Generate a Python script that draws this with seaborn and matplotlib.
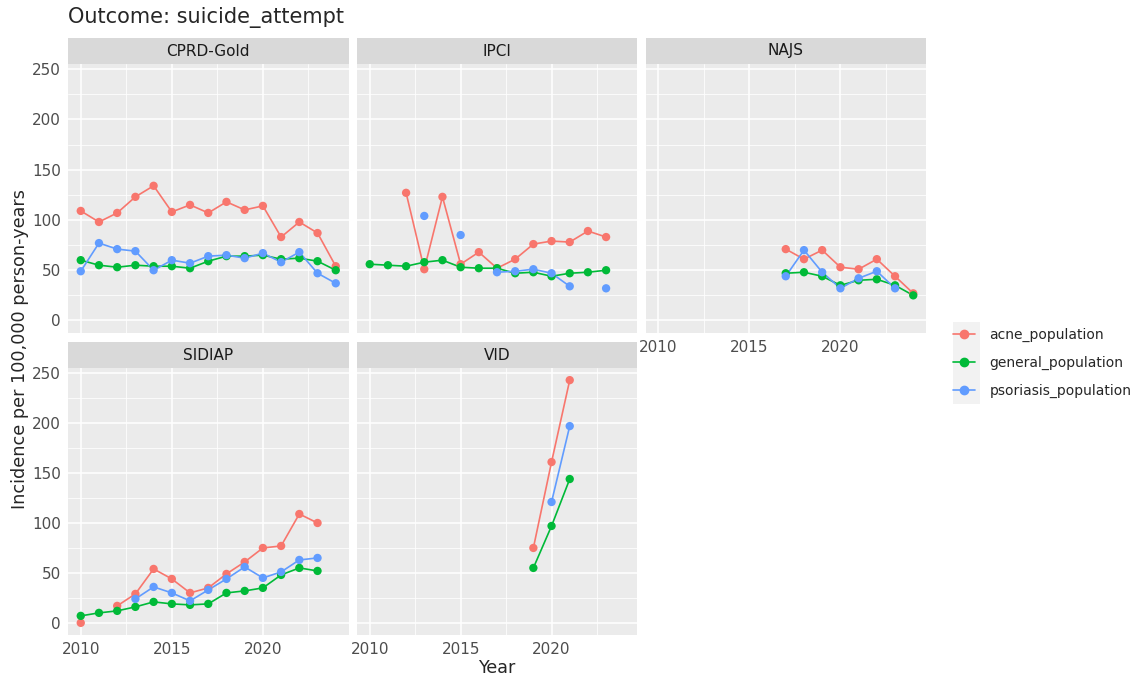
import numpy as np
import pandas as pd
import matplotlib
matplotlib.use("Agg")
import matplotlib.pyplot as plt
import seaborn as sns
from matplotlib.lines import Line2D
from matplotlib.patches import Rectangle

sns.set_style("white")
plt.rcParams["font.family"] = ["DejaVu Sans"]

nan = np.nan
populations = ["acne_population", "general_population", "psoriasis_population"]
colors = ["#F8766D", "#00BA38", "#619CFF"]
databases = ["CPRD-Gold", "IPCI", "NAJS", "SIDIAP", "VID"]

cprd_years = list(range(2010, 2025))
cprd_acne = [109, 98, 107, 123, 134, 108, 115, 107, 118, 110, 114, 83, 98, 87, 54]
cprd_general = [60, 55, 53, 55, 54, 54, 52, 59, 64, 64, 65, 61, 62, 59, 50]
cprd_psoriasis = [49, 77, 71, 69, 50, 60, 57, 64, 65, 62, 67, 58, 68, 47, 37]

ipci_years = list(range(2010, 2024))
ipci_acne = [nan, nan, 127, 51, 123, 56, 68, 52, 61, 76, 79, 78, 89, 83]
ipci_general = [56, 55, 54, 58, 60, 53, 52, 52, 47, 48, 44, 47, 48, 50]
ipci_psoriasis = [nan, nan, nan, 104, nan, 85, nan, 48, 49, 51, 47, 34, nan, 32]

najs_years = list(range(2017, 2025))
najs_acne = [71, 61, 70, 53, 51, 61, 44, 27]
najs_general = [47, 48, 44, 35, 40, 41, 35, 25]
najs_psoriasis = [44, 70, 48, 32, 42, 49, 32, nan]

sidiap_years = list(range(2010, 2024))
sidiap_acne = [0, nan, 17, 29, 54, 44, 30, 35, 49, 61, 75, 77, 109, 100]
sidiap_general = [7, 10, 12, 16, 21, 19, 18, 19, 30, 32, 35, 48, 55, 52]
sidiap_psoriasis = [nan, nan, nan, 24, 36, 30, 22, 33, 44, 56, 45, 51, 63, 65]

vid_years = [2019, 2020, 2021]
vid_acne = [75, 161, 243]
vid_general = [55, 97, 144]
vid_psoriasis = [nan, 121, 197]

source = {
    "CPRD-Gold": (cprd_years, [cprd_acne, cprd_general, cprd_psoriasis]),
    "IPCI": (ipci_years, [ipci_acne, ipci_general, ipci_psoriasis]),
    "NAJS": (najs_years, [najs_acne, najs_general, najs_psoriasis]),
    "SIDIAP": (sidiap_years, [sidiap_acne, sidiap_general, sidiap_psoriasis]),
    "VID": (vid_years, [vid_acne, vid_general, vid_psoriasis]),
}

rows_ = []
for db, (yrs, series) in source.items():
    for pop, vals in zip(populations, series):
        seg = 0
        for y, v in zip(yrs, vals):
            if v is None or (isinstance(v, float) and np.isnan(v)):
                seg += 1
                continue
            rows_.append(dict(db=db, year=y, pop=pop, value=v, seg=f"{pop}_{seg}"))
df = pd.DataFrame(rows_)
palette = dict(zip(populations, colors))

W, H = 1135, 677
fig = plt.figure(figsize=(W / 100, H / 100), dpi=100)


def rect(l, t, r, b):
    return [l / W, 1 - b / H, (r - l) / W, (b - t) / H]


cols = [(68, 348.5), (357, 637), (645.5, 926)]
rows = [(64, 332.7), (368, 635)]
strip_h = 26
positions = {"CPRD-Gold": (0, 0), "IPCI": (0, 1), "NAJS": (0, 2), "SIDIAP": (1, 0), "VID": (1, 1)}
xlab_panels = {"NAJS", "SIDIAP", "VID"}

for db in databases:
    r, c = positions[db]
    l, rr = cols[c]
    t, b = rows[r]
    ax = fig.add_axes(rect(l, t, rr, b))
    ax.set_facecolor("#EBEBEB")
    for s in ax.spines.values():
        s.set_visible(False)
    ax.set_axisbelow(True)
    sub = df[df.db == db]
    sns.lineplot(data=sub, x="year", y="value", hue="pop", units="seg", estimator=None,
                 palette=palette, hue_order=populations, legend=False, ax=ax,
                 linewidth=1.2, zorder=2)
    sns.scatterplot(data=sub, x="year", y="value", hue="pop", palette=palette,
                    hue_order=populations, legend=False, ax=ax, s=36, linewidth=0, zorder=3)
    ax.set_xlim(2009.3, 2024.7)
    ax.set_ylim(-12.15, 255.15)
    ax.set_xticks([2010, 2015, 2020])
    ax.set_xticks([2012.5, 2017.5, 2022.5], minor=True)
    ax.set_yticks([0, 50, 100, 150, 200, 250])
    ax.set_yticks([25, 75, 125, 175, 225], minor=True)
    ax.grid(which="major", color="white", linewidth=1.1)
    ax.grid(which="minor", color="white", linewidth=0.55)
    ax.set_xlabel("")
    ax.set_ylabel("")
    ax.tick_params(which="minor", length=0)
    ax.tick_params(which="major", length=3, color="#333333", labelcolor="#4D4D4D",
                   labelsize=11, width=0.8, pad=2)
    if c != 0:
        ax.tick_params(axis="y", which="major", length=0, labelleft=False)
    if db not in xlab_panels:
        ax.tick_params(axis="x", which="major", length=0, labelbottom=False)
    sax = fig.add_axes(rect(l, t - strip_h, rr, t))
    sax.set_facecolor("#D9D9D9")
    sax.set_xticks([])
    sax.set_yticks([])
    for s in sax.spines.values():
        s.set_visible(False)
    sax.text(0.5, 0.5, db, ha="center", va="center", fontsize=11, color="#1A1A1A",
             transform=sax.transAxes)

fig.text(68 / W, 1 - 18 / H, "Outcome: suicide_attempt", fontsize=15, ha="left", va="center")
fig.text(20 / W, 1 - 349.5 / H, "Incidence per 100,000 person-years", fontsize=12.7,
         rotation=90, ha="center", va="center")
fig.text(497 / W, 1 - 668 / H, "Year", fontsize=12.7, ha="center", va="center")

fig.patches.append(Rectangle((953 / W, 1 - 404 / H), 27 / W, 82 / H, transform=fig.transFigure,
                             facecolor="#F2F2F2", edgecolor="none", zorder=0))
handles = [Line2D([0], [0], color=col, marker="o", markersize=6, linewidth=1.2) for col in colors]
fig.legend(handles, populations, loc="center left", bbox_to_anchor=(949 / W, 1 - 363 / H),
           frameon=False, fontsize=10, handlelength=1.6, labelspacing=0.98, handletextpad=1.0,
           borderaxespad=0, borderpad=0.3)

fig.savefig("out.png", dpi=100)
